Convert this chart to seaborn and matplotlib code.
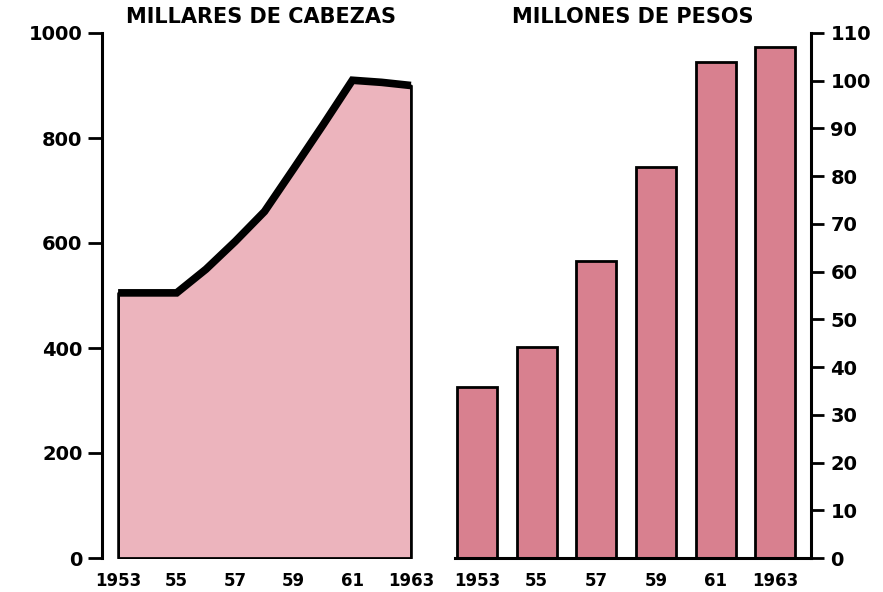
import numpy as np
import pandas as pd
import seaborn as sns
import matplotlib
matplotlib.use("Agg")
import matplotlib.pyplot as plt

# ganado: millares de cabezas (serie anual)
years_area = [1953, 1954, 1955, 1956, 1957, 1958, 1959, 1960, 1961, 1962, 1963]
cabezas = [505, 505, 505, 550, 603, 660, 742, 825, 910, 906, 900]

# valor: millones de pesos
years_bar = ["1953", "1955", "1957", "1959", "1961", "1963"]
pesos = [35.8, 44.2, 62.3, 82, 104, 107]
bar_labels = ["1953", "55", "57", "59", "61", "1963"]

left_ticks = [0, 200, 400, 600, 800, 1000]
right_ticks = list(range(0, 111, 10))

sns.set_theme(style="white")
plt.rcParams['font.family'] = ['DejaVu Sans']
plt.rcParams['font.weight'] = 'bold'
plt.rcParams['text.color'] = 'black'

fig = plt.figure(figsize=(8.83, 5.92), dpi=100)
W, H = 883, 592

def box(l, r, top, bot):
    return [l / W, 1 - bot / H, (r - l) / W, (bot - top) / H]

ax1 = fig.add_axes(box(102, 420, 33, 558))
ax2 = fig.add_axes(box(455, 811, 33, 558))

# --- left: area ---
df1 = pd.DataFrame({"year": years_area, "cabezas": cabezas})
ax1.fill_between(df1["year"], 0, df1["cabezas"], facecolor="#ecb4bd",
                 edgecolor="black", linewidth=2)
sns.lineplot(data=df1, x="year", y="cabezas", ax=ax1, color="black",
             linewidth=5.5, solid_joinstyle="miter", solid_capstyle="butt")
ax1.set_xlim(1952.45, 1963.31)
ax1.set_ylim(0, 1000)
ax1.set_xticks([1953, 1955, 1957, 1959, 1961, 1963])
ax1.set_xticklabels(bar_labels)
ax1.set_yticks(left_ticks)
ax1.set_xlabel("")
ax1.set_ylabel("")
for s in ["top", "right", "bottom"]:
    ax1.spines[s].set_visible(False)
ax1.spines["left"].set_linewidth(2.2)
ax1.spines["left"].set_color("black")
ax1.tick_params(axis="y", left=True, length=10, width=2, pad=4,
                labelsize=14, colors="black", direction="out")
ax1.tick_params(axis="x", bottom=False, labelsize=12, pad=4, colors="black")
ax1.set_title("MILLARES DE CABEZAS", fontsize=15, fontweight="bold", pad=7,
              color="black")

# --- right: bars ---
df2 = pd.DataFrame({"year": years_bar, "pesos": pesos})
sns.barplot(data=df2, x="year", y="pesos", ax=ax2, color="#d8808f",
            saturation=1, width=0.67, edgecolor="black", linewidth=2)
ax2.set_xlim(-0.37, 5.6)
ax2.set_ylim(0, 110)
ax2.set_xticks(range(len(years_bar)))
ax2.set_xticklabels(bar_labels)
ax2.set_yticks(right_ticks)
ax2.yaxis.tick_right()
ax2.set_xlabel("")
ax2.set_ylabel("")
for s in ["top", "left"]:
    ax2.spines[s].set_visible(False)
for s in ["right", "bottom"]:
    ax2.spines[s].set_linewidth(2.2)
    ax2.spines[s].set_color("black")
ax2.tick_params(axis="y", right=True, left=False, length=9, width=2, pad=5,
                labelsize=14, colors="black", direction="out")
ax2.tick_params(axis="x", bottom=False, labelsize=12, pad=4, colors="black")
ax2.set_title("MILLONES DE PESOS", fontsize=15, fontweight="bold", pad=7,
              color="black")

fig.savefig("out.png", dpi=100)
